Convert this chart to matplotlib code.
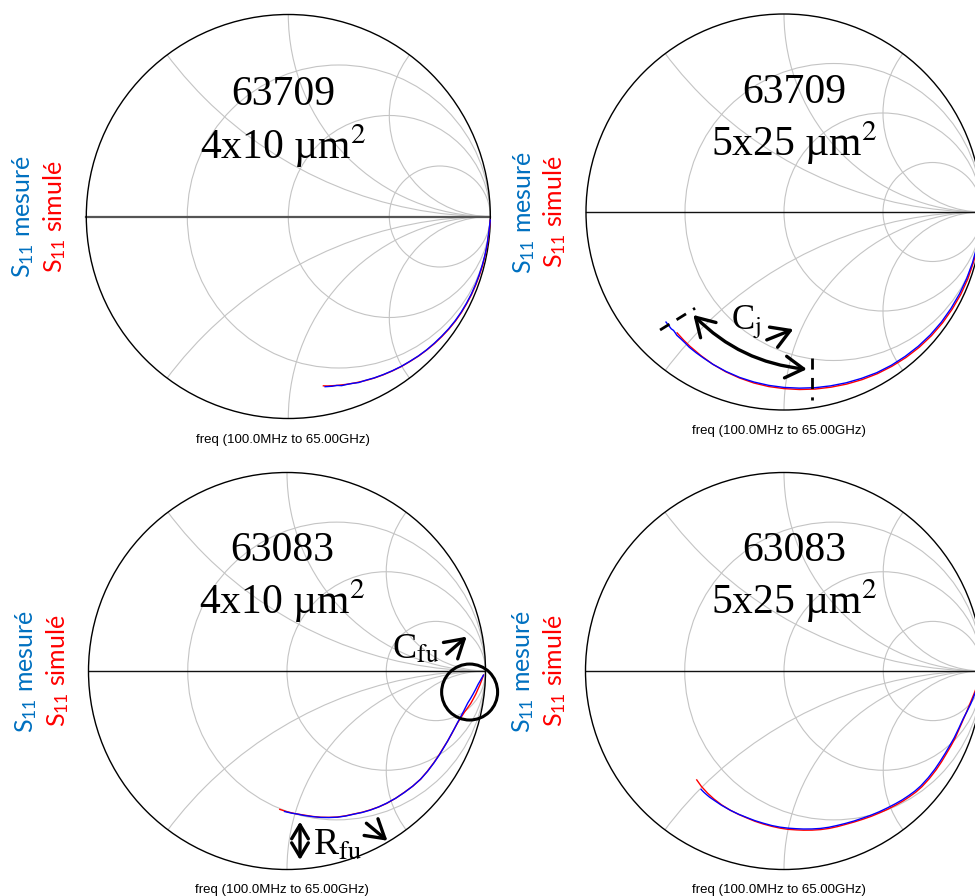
import numpy as np
import matplotlib
matplotlib.use('Agg')
import matplotlib.pyplot as plt
from matplotlib.patches import Circle, FancyArrowPatch

plt.rcParams['mathtext.fontset'] = 'custom'
plt.rcParams['mathtext.rm'] = 'Lato'
plt.rcParams['mathtext.it'] = 'Lato:italic'

W, H = 975, 896

# labels of the four charts
devices = ['63709', '63709', '63083', '63083']
sizes = ['4x10 µm$^\\mathrm{2}$', '5x25 µm$^\\mathrm{2}$', '4x10 µm$^\\mathrm{2}$', '5x25 µm$^\\mathrm{2}$']
sweep = 'freq (100.0MHz to 65.00GHz)'

# S11: phase (deg) and magnitude
# 63709 4x10
m1_ang = [-1, -4, -8, -11, -14, -17, -20, -23, -26, -29, -32, -35, -38, -41, -44, -47, -50, -53, -56, -59,
          -62, -65, -67, -69, -71, -72.5, -74, -75.5, -77, -77.8]
m1_mag = [1.0, 0.996, 0.994, 0.992, 0.99, 0.988, 0.986, 0.984, 0.981, 0.978, 0.974, 0.969, 0.963, 0.957, 0.951,
          0.944, 0.936, 0.929, 0.921, 0.913, 0.905, 0.896, 0.893, 0.885, 0.88, 0.878, 0.87, 0.868, 0.864, 0.862]
s1_ang = [-1, -4, -8, -11, -14, -17, -20, -23, -26, -29, -32, -35, -38, -41, -44, -47, -50, -53, -56, -59,
          -62, -65, -68, -71, -74, -77, -78.3]
s1_mag = [1.0, 0.997, 0.995, 0.993, 0.992, 0.99, 0.988, 0.986, 0.983, 0.98, 0.976, 0.971, 0.965, 0.959, 0.952,
          0.945, 0.937, 0.93, 0.922, 0.914, 0.906, 0.897, 0.888, 0.879, 0.87, 0.861, 0.856]
# 63709 5x25
m2_ang = [-1, -5, -10, -15, -20, -25, -30, -35, -40, -45, -50, -55, -60, -65, -70, -75, -80, -85, -90, -95,
          -100, -105, -110, -115, -119, -122, -125, -127, -129, -131, -132, -133, -134, -135.5, -137]
m2_mag = [1.0, 0.995, 0.99, 0.986, 0.982, 0.978, 0.974, 0.97, 0.965, 0.959, 0.952, 0.945, 0.937, 0.927, 0.918,
          0.909, 0.901, 0.893, 0.886, 0.879, 0.872, 0.865, 0.857, 0.849, 0.842, 0.838, 0.834, 0.829, 0.826,
          0.825, 0.821, 0.818, 0.82, 0.817, 0.815]
s2_ang = [-1, -5, -10, -15, -20, -25, -30, -35, -40, -45, -50, -55, -60, -65, -70, -75, -80, -85, -90, -95,
          -100, -105, -110, -115, -120, -125, -128, -131.5]
s2_mag = [1.0, 0.996, 0.993, 0.99, 0.988, 0.985, 0.981, 0.977, 0.972, 0.966, 0.959, 0.951, 0.943, 0.934, 0.925,
          0.916, 0.908, 0.9, 0.892, 0.885, 0.877, 0.868, 0.859, 0.849, 0.838, 0.828, 0.822, 0.815]
# 63083 4x10
m3_ang = [-1.2, -2.5, -4, -5.5, -7, -8.5, -10, -11.5, -13, -15, -17, -19, -21, -23.5, -26, -29, -32, -35.5,
          -39, -42.5, -46, -49.5, -53, -56, -59, -62, -65, -68, -71, -74, -77, -80, -83.5, -86, -88, -91]
m3_mag = [0.99, 0.978, 0.965, 0.955, 0.945, 0.935, 0.925, 0.918, 0.912, 0.904, 0.897, 0.892, 0.887, 0.883,
          0.879, 0.876, 0.873, 0.87, 0.866, 0.859, 0.851, 0.843, 0.834, 0.826, 0.817, 0.807, 0.796, 0.788,
          0.779, 0.768, 0.757, 0.745, 0.732, 0.722, 0.717, 0.708]
s3_ang = [-1.2, -2.5, -4, -5.5, -7, -8.5, -10, -11.5, -13, -15, -17, -19, -21, -23.5, -26, -29, -32, -35.5,
          -39, -42.5, -46, -49.5, -53, -56, -59, -62, -65, -68, -71, -74, -77, -80, -83.5, -87, -90, -93]
s3_mag = [0.99, 0.983, 0.975, 0.966, 0.958, 0.949, 0.94, 0.929, 0.918, 0.907, 0.898, 0.892, 0.888, 0.883,
          0.878, 0.875, 0.872, 0.869, 0.866, 0.859, 0.85, 0.843, 0.835, 0.826, 0.816, 0.806, 0.795, 0.787,
          0.778, 0.767, 0.756, 0.744, 0.73, 0.719, 0.709, 0.698]
# 63083 5x25
m4_ang = [-1, -3.5, -6, -8, -10, -12.5, -15, -18, -21.5, -24, -27, -30, -33, -36.5, -40, -42.5, -45, -47.5,
          -50, -53, -56, -59, -62, -65, -68, -71, -74, -77, -80, -83, -85.5, -88.5, -91.4, -94.5, -97.7,
          -101, -104, -107.5, -111, -115, -118.7, -120.5, -122, -123.5, -125]
m4_mag = [0.99, 0.981, 0.972, 0.963, 0.955, 0.944, 0.934, 0.927, 0.921, 0.916, 0.912, 0.909, 0.907, 0.904,
          0.9, 0.895, 0.888, 0.881, 0.873, 0.864, 0.856, 0.848, 0.84, 0.834, 0.828, 0.823, 0.819, 0.814,
          0.808, 0.802, 0.797, 0.792, 0.787, 0.781, 0.774, 0.768, 0.762, 0.757, 0.752, 0.746, 0.74, 0.738,
          0.735, 0.732, 0.728]
s4_ang = [-1, -3.5, -6, -8, -10, -12.5, -15, -18, -21.5, -24, -27, -30, -33, -36.5, -40, -42.5, -45, -47.5,
          -50, -53, -56, -59, -62, -65, -68, -71, -74, -77, -80, -83, -85.5, -88.5, -91.4, -94.5, -97.7,
          -101, -104, -107.5, -111, -115, -118.7, -122, -125.6, -128.7]
s4_mag = [0.99, 0.979, 0.968, 0.959, 0.951, 0.943, 0.936, 0.93, 0.926, 0.922, 0.918, 0.916, 0.914, 0.911,
          0.907, 0.902, 0.895, 0.888, 0.88, 0.871, 0.862, 0.854, 0.846, 0.839, 0.833, 0.829, 0.825, 0.82,
          0.814, 0.808, 0.803, 0.798, 0.792, 0.785, 0.778, 0.771, 0.764, 0.758, 0.752, 0.744, 0.735, 0.726,
          0.715, 0.703]

measured = [(m1_ang, m1_mag), (m2_ang, m2_mag), (m3_ang, m3_mag), (m4_ang, m4_mag)]
simulated = [(s1_ang, s1_mag), (s2_ang, s2_mag), (s3_ang, s3_mag), (s4_ang, s4_mag)]

# smith grid values
r_circles = [1/3, 1, 3]
x_arcs = [0.5, 1, 2]

# chart centre and radius in pixels
layout = [(288.3, 216.5, 202), (784, 212, 198), (287, 671, 198.5), (784, 671, 198.5)]
axis_line = [('#555555', 1.6), ('#111111', 1.0), ('#111111', 1.0), ('#111111', 1.0)]

fig = plt.figure(figsize=(W/100, H/100), dpi=100)

def smith_axes(cx, cy, R, L=1.5):
    ax = fig.add_axes([(cx - L*R)/W, (H - cy - L*R)/H, 2*L*R/W, 2*L*R/H])
    ax.set_xlim(-L, L)
    ax.set_ylim(-L, L)
    ax.axis('off')
    return ax

def draw_grid(ax, lc, lw):
    clip = Circle((0, 0), 1, transform=ax.transData)
    for r in r_circles:
        ax.add_patch(Circle((r/(1+r), 0), 1/(1+r), fill=False, ec='#c4c4c4', lw=0.8))
    for x in x_arcs:
        for s in (1, -1):
            c = Circle((1, s/x), 1/x, fill=False, ec='#c4c4c4', lw=0.8)
            ax.add_patch(c)
            c.set_clip_path(clip)
    ax.plot([-1, 1], [0, 0], color=lc, lw=lw)
    ax.add_patch(Circle((0, 0), 1, fill=False, ec='black', lw=1.0, zorder=3))

def gamma(ang, mag):
    g = np.array(mag) * np.exp(1j*np.deg2rad(ang))
    return g.real, g.imag

axes = []
for i, (cx, cy, R) in enumerate(layout):
    ax = smith_axes(cx, cy, R)
    draw_grid(ax, *axis_line[i])
    xs, ys = gamma(*simulated[i])
    ax.plot(xs, ys, color='#ff0000', lw=1.0, zorder=4)
    xm, ym = gamma(*measured[i])
    ax.plot(xm, ym, color='#0000ff', lw=1.0, zorder=5)

    dx = 0.054 if i % 2 else -0.026
    ax.text(dx, 0.552, devices[i], ha='center', va='baseline', fontsize=30,
            family='Liberation Serif', zorder=6)
    ax.text(dx, 0.285, sizes[i], ha='center', va='baseline', fontsize=30,
            family='Liberation Serif', math_fontfamily='stix', zorder=6)
    ax.text(-0.025, -1.105, sweep, ha='center', va='center', fontsize=9.5,
            family='Liberation Sans')
    ax.text(-1.315, 0.0, 'S$_{11}$ mesuré', rotation=90, ha='center', va='center',
            fontsize=18, color='#0070c0', family='Lato', math_fontfamily='custom')
    ax.text(-1.158, 0.0, 'S$_{11}$ simulé', rotation=90, ha='center', va='center',
            fontsize=18, color='#ff0000', family='Lato', math_fontfamily='custom')
    axes.append(ax)

def arrow(ax, p0, p1, style='->', rad=0.0, size=26):
    a = FancyArrowPatch(p0, p1, arrowstyle=style + ',head_length=0.5,head_width=0.3',
                        connectionstyle='arc3,rad=%g' % rad, mutation_scale=size,
                        shrinkA=0, shrinkB=0, lw=2.4, color='black', zorder=7)
    ax.add_patch(a)

# C_j annotation (63709 5x25)
ax = axes[1]
ax.plot([-0.626, -0.449], [-0.596, -0.486], color='black', lw=2, ls=(0, (4, 3)), zorder=7)
ax.plot([0.14, 0.14], [-0.737, -0.95], color='black', lw=2, ls=(0, (4, 3)), zorder=7)
arrow(ax, (-0.458, -0.52), (0.115, -0.794), style='<->', rad=0.18)
ax.text(-0.19, -0.59, r'C$_\mathrm{j}$', ha='center', va='baseline', fontsize=25,
        family='Liberation Serif', math_fontfamily='stix', zorder=7)
arrow(ax, (-0.087, -0.646), (0.047, -0.592))

# C_fu / R_fu annotation (63083 4x10)
ax = axes[2]
ax.add_patch(Circle((0.92, -0.106), 0.141, fill=False, ec='black', lw=2.2, zorder=7))
ax.text(0.65, 0.065, r'C$_\mathrm{fu}$', ha='center', va='baseline', fontsize=26,
        family='Liberation Serif', math_fontfamily='stix', zorder=7)
arrow(ax, (0.805, 0.086), (0.905, 0.173))
arrow(ax, (0.0655, -0.759), (0.0655, -0.952), style='<->', size=20)
ax.text(0.255, -0.927, r'R$_\mathrm{fu}$', ha='center', va='baseline', fontsize=27,
        family='Liberation Serif', math_fontfamily='stix', zorder=7)
arrow(ax, (0.40, -0.767), (0.506, -0.855))

fig.savefig('out.png', dpi=100)
